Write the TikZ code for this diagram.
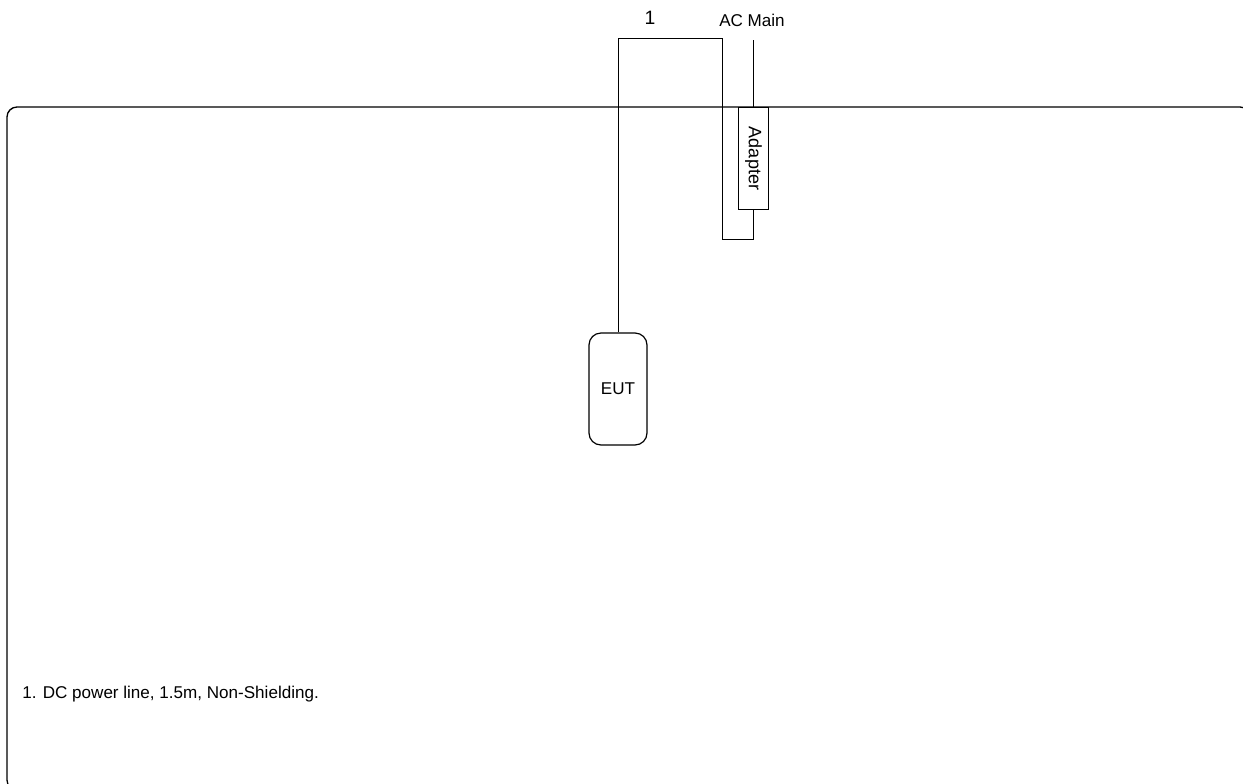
\documentclass[tikz,border=0pt]{standalone}
\usepackage{fontspec}
\setmainfont{Liberation Sans}
\usetikzlibrary{positioning}

\begin{document}
\begin{tikzpicture}[
    x=0.75pt, y=-0.75pt,
    every node/.style={font=\fontsize{12.8}{15}\selectfont},
    table/.style={draw, line width=1pt, rounded corners=7.5pt},
    device/.style={draw, line width=0.9pt, rounded corners=9pt, minimum width=43.5pt, minimum height=84pt, inner sep=0pt},
    adapterbox/.style={draw, line width=0.9pt, minimum width=23pt, minimum height=77pt, inner sep=0pt},
    mains/.style={line width=0.9pt},
    cable/.style={line width=0.6pt}
]
    \useasboundingbox (0,0) rectangle (1243,783);

    % Table
    \draw[table] (7,107) rectangle (1250,790);

    % EUT and adapter
    \node[device] (eut) at (618,389) {EUT};
    \node[adapterbox] (adapter) at (753.5,158.5) {\rotatebox{-90}{\fontsize{13.5}{15}\selectfont Adapter}};

    % AC mains input
    \coordinate (acin) at (753.5,40);
    \node (acmain) at (752,20) {AC Main};
    \draw[mains] (acin) -- (adapter.north);

    % Cable 1: EUT to adapter
    \draw[cable] (eut.north) |- (722,38) -- (722,239) -| (adapter.south);
    \node (cablelbl) at (650,18) {\fontsize{14.5}{16}\selectfont 1};

    % Note
    \node[anchor=west, inner sep=0pt] (note) at (22,694) {1. DC power line, 1.5m, Non-Shielding.};
\end{tikzpicture}
\end{document}
